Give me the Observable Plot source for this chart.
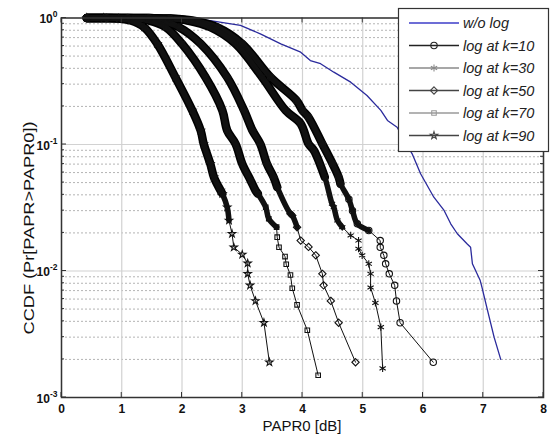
<!DOCTYPE html>
<html>
<head>
<meta charset="utf-8">
<script src="https://cdn.jsdelivr.net/npm/d3@7"></script>
<script src="https://cdn.jsdelivr.net/npm/@observablehq/plot@0.6"></script>
<style>
  html,body{margin:0;padding:0;background:#fff;}
  #chart{width:550px;height:435px;}
  #chart svg{display:block;}
</style>
</head>
<body>
<div id="chart"></div>
<script>
// ---------------- data ----------------
const xTicks = [0, 1, 2, 3, 4, 5, 6, 7, 8];
const yMajor = [1e-3, 1e-2, 1e-1, 1];
const yMinorMultipliers = [2, 3, 4, 5, 6, 7, 8, 9];
const seriesNames = ["w/o log", "log at k=10", "log at k=30", "log at k=50", "log at k=70", "log at k=90"];
const xLabel = "PAPR0 [dB]";
const yLabel = "CCDF (Pr[PAPR>PAPR0])";

const woLogX = [0.42, 1.50, 2.05, 2.47, 2.97, 3.30, 3.64, 3.97, 4.13, 4.30, 4.52, 4.80, 5.07, 5.30, 5.41, 5.57, 5.82, 5.96, 6.18, 6.35, 6.46, 6.57, 6.73, 6.79, 6.82, 6.95, 6.98, 7.07, 7.18, 7.29];
const woLogY = [1.0, 1.0, 0.995, 0.955, 0.873, 0.750, 0.625, 0.537, 0.461, 0.435, 0.373, 0.311, 0.244, 0.186, 0.155, 0.137, 0.0844, 0.0587, 0.0383, 0.0301, 0.0236, 0.0197, 0.0164, 0.0154, 0.0114, 0.0084, 0.0074, 0.0049, 0.0030, 0.0020];

const k10X = [0.42, 0.75, 1.10, 1.45, 1.80, 2.17, 2.58, 3.00, 3.47, 3.90, 4.00, 4.10, 4.33, 4.50, 4.60, 4.63, 4.77, 4.83, 4.91, 5.10, 5.29, 5.29, 5.35, 5.38, 5.44, 5.53, 5.56, 5.62, 6.17];
const k10Y = [1.0, 1.0, 1.0, 0.998, 0.99, 0.955, 0.846, 0.625, 0.34, 0.223, 0.186, 0.164, 0.101, 0.0703, 0.0552, 0.0489, 0.0369, 0.030, 0.0236, 0.0209, 0.0174, 0.0154, 0.0133, 0.0114, 0.0095, 0.0077, 0.0058, 0.0039, 0.0019];

const k30X = [0.42, 0.75, 1.10, 1.45, 1.80, 2.09, 2.47, 2.89, 3.33, 3.72, 3.97, 4.10, 4.19, 4.37, 4.49, 4.52, 4.58, 4.66, 4.80, 4.93, 4.93, 4.99, 5.10, 5.13, 5.13, 5.21, 5.30, 5.33];
const k30Y = [1.0, 1.0, 1.0, 0.998, 0.99, 0.955, 0.846, 0.625, 0.34, 0.186, 0.146, 0.101, 0.0897, 0.0552, 0.034, 0.0319, 0.0251, 0.0222, 0.0191, 0.0174, 0.0150, 0.0133, 0.0114, 0.0095, 0.0074, 0.0056, 0.0036, 0.0017];

const k50X = [0.42, 0.75, 1.10, 1.40, 1.64, 1.95, 2.31, 2.75, 3.03, 3.17, 3.30, 3.41, 3.52, 3.58, 3.80, 3.83, 3.91, 3.97, 4.10, 4.22, 4.33, 4.35, 4.47, 4.60, 4.88];
const k50Y = [1.0, 1.0, 0.998, 0.985, 0.955, 0.846, 0.625, 0.34, 0.186, 0.129, 0.101, 0.0703, 0.0552, 0.046, 0.0283, 0.0275, 0.0222, 0.0174, 0.0155, 0.0133, 0.0095, 0.0077, 0.0058, 0.0039, 0.0019];

const k70X = [0.42, 0.75, 1.05, 1.45, 1.73, 2.00, 2.39, 2.67, 2.75, 2.89, 3.00, 3.14, 3.22, 3.26, 3.39, 3.44, 3.57, 3.58, 3.61, 3.71, 3.73, 3.80, 3.83, 3.91, 4.08, 4.26];
const k70Y = [1.0, 1.0, 0.995, 0.955, 0.846, 0.625, 0.34, 0.186, 0.129, 0.101, 0.0703, 0.0519, 0.0433, 0.0408, 0.0319, 0.0259, 0.0222, 0.0185, 0.0154, 0.0130, 0.0113, 0.0093, 0.0073, 0.0054, 0.0034, 0.0015];

const k90X = [0.42, 0.70, 0.95, 1.15, 1.37, 1.59, 1.89, 2.17, 2.31, 2.36, 2.47, 2.53, 2.64, 2.67, 2.75, 2.78, 2.83, 2.86, 3.00, 3.09, 3.09, 3.13, 3.22, 3.36, 3.45];
const k90Y = [1.0, 1.0, 0.99, 0.955, 0.846, 0.625, 0.34, 0.186, 0.129, 0.101, 0.0703, 0.0552, 0.0433, 0.0408, 0.0319, 0.0251, 0.0197, 0.0154, 0.0135, 0.0115, 0.0095, 0.0077, 0.0058, 0.0039, 0.0019];

// ---------------- styles ----------------
const seriesSymbols = [null, "circle", "asterisk", "diamond2", "square2", "star"];
const symbolR = [0, 3.2, 3.4, 3.3, 2.9, 2.3];
const d3Symbols = {circle: d3.symbolCircle, asterisk: d3.symbolAsterisk, diamond2: d3.symbolDiamond2, square2: d3.symbolSquare2, star: d3.symbolStar};
const legendStroke = ["#3c3cc8", "#222", "#8a8a8a", "#444", "#9a9a9a", "#444"];
const blueColor = "#2a2a9c";
const denseFloor = 0.04;   // markers fully merged above this CCDF level
const semiFloor = 0.02;    // markers still overlapping above this level
const fontFamily = "'Liberation Sans', Arial, Helvetica, sans-serif";

// ---------------- build tables ----------------
const allX = [woLogX, k10X, k30X, k50X, k70X, k90X];
const allY = [woLogY, k10Y, k30Y, k50Y, k70Y, k90Y];
const rows = seriesNames.map((name, i) => allX[i].map((x, j) => ({name, x, y: allY[i][j]})));
const blue = rows[0];
const black = rows.slice(1).flat();
const yMinor = yMajor.slice(0, -1).flatMap(d => yMinorMultipliers.map(m => m * d));

const chart = Plot.plot({
  width: 550,
  height: 435,
  marginLeft: 61,
  marginRight: 7,
  marginTop: 17.5,
  marginBottom: 38,
  style: {fontFamily, fontSize: "12px", background: "#fff", color: "#111", overflow: "visible"},
  x: {domain: [0, 8]},
  y: {type: "log", domain: [1e-3, 1]},
  marks: [
    Plot.ruleY(yMinor, {y: d => d, stroke: "#b4b4b4", strokeDasharray: "2,2", strokeWidth: 1}),
    Plot.ruleY(yMajor, {y: d => d, stroke: "#d2d2d2", strokeWidth: 1.2}),
    Plot.ruleX(xTicks, {x: d => d, stroke: "#d2d2d2", strokeWidth: 1.2}),
    Plot.axisX({ticks: xTicks, tickSize: 0, tickPadding: 7, tickFormat: d => String(d), label: null, fontWeight: "bold", fontSize: 12}),
    Plot.axisY({ticks: yMajor, tickSize: 0, tickPadding: 4, tickFormat: d => "10^" + Math.round(Math.log10(d)), label: null, fontWeight: "bold", fontSize: 12}),
    Plot.line(blue, {x: "x", y: "y", stroke: blueColor, strokeWidth: 1.3}),
    Plot.line(black.filter(d => d.y >= denseFloor), {x: "x", y: "y", z: "name", curve: "catmull-rom", stroke: "#000", strokeWidth: 8.5, strokeLinecap: "round", strokeLinejoin: "round"}),
    Plot.line(black.filter(d => d.y >= semiFloor), {x: "x", y: "y", z: "name", curve: "catmull-rom", stroke: "#111", strokeWidth: 5.5, strokeLinecap: "round", strokeLinejoin: "round"}),
    Plot.line(black, {x: "x", y: "y", z: "name", stroke: "#111", strokeWidth: 1}),
    ...rows.slice(1).map((r, i) => Plot.dot(r, {x: "x", y: "y", symbol: seriesSymbols[i + 1], r: symbolR[i + 1], stroke: "#111", fill: "none", strokeWidth: 1.1})),
    Plot.frame({stroke: "#333", strokeWidth: 1.5})
  ]
});

document.getElementById("chart").appendChild(chart);

const svg = d3.select(chart);
const X = chart.scale("x"), Y = chart.scale("y");
const xl = X.apply(0), xr = X.apply(8), yb = Y.apply(1e-3), yt = Y.apply(1);

// y tick labels as 10 with superscript exponent
svg.selectAll('g[aria-label="y-axis tick label"] text').each(function () {
  const t = d3.select(this);
  const s = t.text();
  const e = s.split("^")[1];
  t.text(null).attr("dy", "0.12em");
  t.append("tspan").text("10");
  t.append("tspan").attr("font-size", "8.5px").attr("dy", "-0.7em").text(e);
});

// inward tick marks (MATLAB style)
const tg = svg.append("g").attr("stroke", "#333").attr("stroke-width", 1);
xTicks.forEach(v => {
  const px = X.apply(v);
  tg.append("line").attr("x1", px).attr("x2", px).attr("y1", yb).attr("y2", yb - 5);
  tg.append("line").attr("x1", px).attr("x2", px).attr("y1", yt).attr("y2", yt + 5);
});
yMajor.forEach(v => {
  const py = Y.apply(v);
  tg.append("line").attr("x1", xl).attr("x2", xl + 5).attr("y1", py).attr("y2", py);
  tg.append("line").attr("x1", xr).attr("x2", xr - 5).attr("y1", py).attr("y2", py);
});
yMinor.forEach(v => {
  const py = Y.apply(v);
  tg.append("line").attr("x1", xl).attr("x2", xl + 3).attr("y1", py).attr("y2", py);
  tg.append("line").attr("x1", xr).attr("x2", xr - 3).attr("y1", py).attr("y2", py);
});

// axis labels
svg.append("text")
  .attr("x", (xl + xr) / 2).attr("y", 430.5)
  .attr("text-anchor", "middle").attr("font-size", "15px").attr("fill", "#111")
  .attr("font-family", fontFamily)
  .text(xLabel);
svg.append("text")
  .attr("transform", "translate(34,228) rotate(-90)")
  .attr("text-anchor", "middle").attr("font-size", "15px").attr("fill", "#111")
  .attr("font-family", fontFamily)
  .attr("textLength", 213).attr("lengthAdjust", "spacingAndGlyphs")
  .text(yLabel);

// legend
const lg = svg.append("g").attr("font-family", fontFamily).attr("text-anchor", "start");
lg.append("rect").attr("x", 398.5).attr("y", 8.5).attr("width", 150).attr("height", 143)
  .attr("fill", "#fff").attr("stroke", "#333").attr("stroke-width", 1.2);
seriesNames.forEach((name, i) => {
  const cy = 23 + i * 22.5;
  lg.append("line").attr("x1", 409).attr("x2", 459).attr("y1", cy).attr("y2", cy)
    .attr("stroke", legendStroke[i]).attr("stroke-width", 1.3);
  if (seriesSymbols[i]) {
    lg.append("path")
      .attr("d", d3.symbol(d3Symbols[seriesSymbols[i]], Math.PI * symbolR[i] * symbolR[i])())
      .attr("transform", `translate(434,${cy})`)
      .attr("fill", "none").attr("stroke", legendStroke[i]).attr("stroke-width", 1.1);
  }
  lg.append("text").attr("x", 463).attr("y", cy + 5)
    .attr("text-anchor", "start")
    .attr("font-style", "italic").attr("font-size", "14.5px").attr("fill", "#222")
    .text(name);
});
</script>
</body>
</html>
